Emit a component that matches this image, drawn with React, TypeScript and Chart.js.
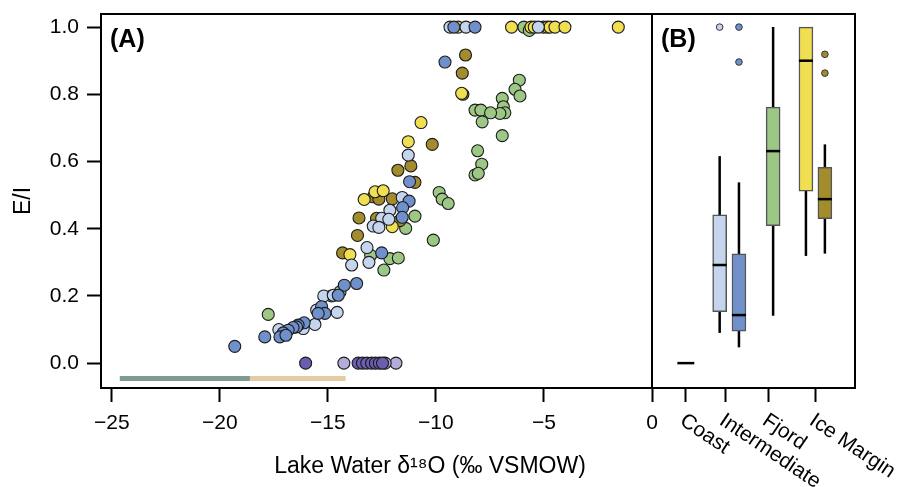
import React, { useEffect, useRef } from 'react';
import { Chart, registerables } from 'chart.js';

Chart.register(...registerables);

const FONT = '"Liberation Sans", Arial, Helvetica, sans-serif';

// ---------- Panel A data ----------
const xTicksA = [-25, -20, -15, -10, -5, 0];
const yTicks = [0, 0.2, 0.4, 0.6, 0.8, 1.0];
const xTitle = 'Lake Water \u03b4\u00b9\u2078O (\u2030 VSMOW)';
const yTitle = 'E/I';

const intermediateLight: [number, number][] = [
  [-11.28, 0.619], [-11.56, 0.493], [-12.13, 0.455], [-12.51, 0.431], [-12.18, 0.428],
  [-12.9, 0.408], [-12.64, 0.404], [-13.19, 0.344], [-13.1, 0.3], [-13.9, 0.292],
  [-14.83, 0.2], [-15.19, 0.2], [-14.75, 0.202], [-15.52, 0.158], [-14.57, 0.151],
  [-15.6, 0.115], [-17.27, 0.1], [-16.14, 0.103], [-9.35, 1.0], [-8.61, 1.0], [-5.26, 1.0],
];
const intermediateDark: [number, number][] = [
  [-11.22, 0.54], [-11.24, 0.482], [-11.54, 0.463], [-11.56, 0.434], [-12.51, 0.328],
  [-13.67, 0.237], [-14.24, 0.232], [-14.52, 0.202], [-15.29, 0.168], [-15.14, 0.148],
  [-15.45, 0.148], [-16.1, 0.12], [-16.38, 0.113], [-16.45, 0.108], [-16.61, 0.106],
  [-16.84, 0.098], [-17.07, 0.09], [-17.22, 0.078], [-16.94, 0.083], [-17.92, 0.078],
  [-19.31, 0.05], [-9.17, 1.0], [-8.19, 1.0], [-9.58, 0.896],
];
const fjord: [number, number][] = [
  [-9.85, 0.508], [-9.71, 0.488], [-9.43, 0.475], [-10.97, 0.4375], [-11.4, 0.401],
  [-10.12, 0.366], [-13.02, 0.321], [-12.13, 0.311], [-11.74, 0.313], [-12.41, 0.277],
  [-14.44, 0.212], [-17.76, 0.145], [-8.07, 0.632], [-7.88, 0.592], [-8.19, 0.56],
  [-8.04, 0.565], [-6.14, 0.842], [-6.34, 0.815], [-6.11, 0.795], [-6.93, 0.788],
  [-6.88, 0.763], [-6.81, 0.745], [-7.04, 0.743], [-8.19, 0.753], [-7.92, 0.753],
  [-7.47, 0.745], [-7.86, 0.718], [-6.93, 0.677], [-5.93, 1.0], [-5.68, 0.99],
];
const iceMarginLight: [number, number][] = [
  [-13.32, 0.487], [-12.82, 0.51], [-12.44, 0.513], [-12.02, 0.406], [-13.98, 0.323],
  [-8.81, 0.803], [-10.69, 0.716], [-11.28, 0.659], [-8.97, 1.0], [-6.5, 1.0],
  [-5.6, 1.0], [-5.45, 1.0], [-5.03, 1.0], [-4.85, 1.0], [-4.72, 1.0], [-4.49, 1.0],
  [-4.03, 1.0], [-1.56, 1.0],
];
const iceMarginDark: [number, number][] = [
  [-11.16, 0.587], [-11.76, 0.574], [-10.97, 0.538], [-12.9, 0.495], [-12.64, 0.488],
  [-12.02, 0.489], [-11.67, 0.424], [-12.75, 0.431], [-13.56, 0.432], [-13.63, 0.38],
  [-14.32, 0.328], [-8.63, 0.917], [-8.78, 0.863], [-8.75, 0.8], [-10.17, 0.651],
];
const coastDark: [number, number][] = [
  [-16.03, 0], [-13.6, 0], [-13.4, 0], [-13.2, 0], [-12.98, 0], [-12.8, 0],
  [-12.62, 0], [-12.47, 0],
];
const coastLight: [number, number][] = [
  [-14.26, 0], [-11.85, 0], [-12.35, 0],
];

const rangeA: [number, number] = [-24.63, -18.61];
const rangeB: [number, number] = [-18.61, -14.18];
const rangeY = -0.046;

// ---------- Panel B data ----------
const categories = ['Coast', 'Intermediate', 'Fjord', 'Ice Margin'];
const categoryPos = [1.0, 2.17, 3.44, 4.83];
const boxPos = [1.0, 2.0, 2.57, 3.58, 4.55, 5.11];
const boxQ1 = [0, 0.153, 0.095, 0.409, 0.512, 0.43];
const boxMedian = [0, 0.292, 0.143, 0.631, 0.9, 0.488];
const boxQ3 = [0, 0.441, 0.325, 0.762, 1.0, 0.583];
const boxLow = [0, 0.09, 0.047, 0.141, 0.319, 0.326];
const boxHigh = [0, 0.616, 0.538, 1.0, 1.0, 0.651];
const boxOutliers: number[][] = [[], [1.0], [1.0, 0.896], [], [], [0.919, 0.863]];

const COL = {
  lightBlue: '#c6d5ee',
  blue: '#7090cc',
  green: '#9cc784',
  yellow: '#f0df50',
  olive: '#a38c2c',
  purple: '#6b5db0',
  lavender: '#b4acd9',
};
const boxFill = ['#ffffff', COL.lightBlue, COL.blue, COL.green, COL.yellow, COL.olive];

const Y_MIN = -0.074;
const Y_MAX = 1.039;

const framePlugin = (label: string) => ({
  id: 'frame' + label.replace(/\W/g, ''),
  afterDraw(chart: any) {
    const { ctx, chartArea: a } = chart;
    ctx.save();
    ctx.strokeStyle = '#000';
    ctx.lineWidth = 2;
    ctx.strokeRect(a.left, a.top, a.right - a.left, a.bottom - a.top);
    ctx.font = `bold 25px ${FONT}`;
    ctx.fillStyle = '#000';
    ctx.textBaseline = 'top';
    ctx.textAlign = 'left';
    ctx.fillText(label, a.left + 9, a.top + 14);
    ctx.restore();
  },
});

const xTitlePlugin = {
  id: 'xTitle',
  afterDraw(chart: any) {
    const { ctx } = chart;
    ctx.save();
    ctx.font = `23px ${FONT}`;
    ctx.fillStyle = '#000';
    ctx.textAlign = 'center';
    ctx.textBaseline = 'middle';
    ctx.fillText(xTitle, 430, 467);
    ctx.restore();
  },
};

const categoryLabelPlugin = {
  id: 'catLabels',
  afterDraw(chart: any) {
    const { ctx } = chart;
    const xs = chart.scales.x;
    ctx.save();
    ctx.font = `21px ${FONT}`;
    ctx.fillStyle = '#000';
    ctx.textAlign = 'left';
    ctx.textBaseline = 'top';
    categories.forEach((c, i) => {
      const px = xs.getPixelForValue(categoryPos[i]);
      ctx.save();
      ctx.translate(px + 2, xs.top + 22);
      ctx.rotate((34 * Math.PI) / 180);
      ctx.fillText(c, 0, 0);
      ctx.restore();
    });
    ctx.restore();
  },
};

const pts = (arr: [number, number][]) => arr.map(([x, y]) => ({ x, y }));

const scatterDs = (label: string, arr: [number, number][], color: string, order: number) => ({
  type: 'scatter' as const,
  label,
  data: pts(arr),
  backgroundColor: color,
  borderColor: '#1c1c1c',
  borderWidth: 1.1,
  pointRadius: 6,
  order,
});

const tickFont = { family: FONT, size: 21 };
const titleFont = { family: FONT, size: 23 };

export default function App() {
  const refA = useRef<HTMLCanvasElement>(null);
  const refB = useRef<HTMLCanvasElement>(null);

  useEffect(() => {
    const chartA = new Chart(refA.current!, {
      type: 'scatter',
      data: {
        datasets: [
          {
            type: 'line',
            label: 'range1',
            data: [{ x: rangeA[0], y: rangeY }, { x: rangeA[1], y: rangeY }],
            borderColor: '#7f9a8f',
            borderWidth: 5,
            pointRadius: 0,
            borderCapStyle: 'butt',
            order: 20,
          } as any,
          {
            type: 'line',
            label: 'range2',
            data: [{ x: rangeB[0], y: rangeY }, { x: rangeB[1], y: rangeY }],
            borderColor: '#e5cba4',
            borderWidth: 5,
            pointRadius: 0,
            borderCapStyle: 'butt',
            order: 20,
          } as any,
          scatterDs('Fjord', fjord, COL.green, 10),
          scatterDs('Ice Margin (dark)', iceMarginDark, COL.olive, 9),
          scatterDs('Ice Margin (light)', iceMarginLight, COL.yellow, 8),
          scatterDs('Intermediate (light)', intermediateLight, COL.lightBlue, 7),
          scatterDs('Intermediate (dark)', intermediateDark, COL.blue, 6),
          scatterDs('Coast (light)', coastLight, COL.lavender, 5),
          scatterDs('Coast (dark)', coastDark, COL.purple, 4),
        ],
      },
      options: {
        animation: false,
        responsive: false,
        events: [],
        layout: { padding: { left: 0, top: 14, right: 255, bottom: 0 } },
        plugins: { legend: { display: false }, tooltip: { enabled: false } },
        scales: {
          x: {
            type: 'linear',
            min: -25.5,
            max: 0,
            afterBuildTicks: (s: any) => { s.ticks = xTicksA.map((v) => ({ value: v })); },
            afterFit: (s: any) => { s.height = 99; s.paddingLeft = 0; s.paddingRight = 0; },
            border: { display: false },
            grid: { drawOnChartArea: false, drawTicks: true, tickLength: 14, tickColor: '#000', tickWidth: 2 },
            ticks: {
              font: tickFont,
              color: '#000',
              padding: 9,
              maxRotation: 0,
              callback: (v: any) => (v < 0 ? '\u2212' + Math.abs(v) : String(v)),
            },
            title: { display: false },
          },
          y: {
            type: 'linear',
            min: Y_MIN,
            max: Y_MAX,
            afterBuildTicks: (s: any) => { s.ticks = yTicks.map((v) => ({ value: v })); },
            afterFit: (s: any) => { s.width = 101; s.paddingTop = 0; s.paddingBottom = 0; },
            border: { display: false },
            grid: { drawOnChartArea: false, drawTicks: true, tickLength: 14, tickColor: '#000', tickWidth: 2 },
            ticks: {
              font: tickFont,
              color: '#000',
              padding: 8,
              callback: (v: any) => Number(v).toFixed(1),
            },
            title: {
              display: true,
              text: yTitle,
              font: titleFont,
              color: '#000',
              padding: { top: 10, bottom: 0 },
            },
          },
        },
      },
      plugins: [framePlugin('(A)'), xTitlePlugin],
    } as any);

    const halfW = 0.207;
    const dsB: any[] = [];
    boxPos.forEach((p, i) => {
      dsB.push({
        type: 'line',
        label: 'whisker' + i,
        data: [{ x: p, y: boxLow[i] }, { x: p, y: boxHigh[i] }],
        borderColor: '#000',
        borderWidth: 2.5,
        pointRadius: 0,
        order: 3,
      });
      if (boxQ3[i] > boxQ1[i]) {
        dsB.push({
          type: 'bar',
          label: 'box' + i,
          data: [{ x: p, y: [boxQ1[i], boxQ3[i]] }],
          backgroundColor: boxFill[i],
          borderColor: '#555',
          borderWidth: 1.5,
          borderSkipped: false,
          barThickness: 14,
          grouped: false,
          order: 2,
        });
      }
      const hw = i === 0 ? 0.25 : halfW;
      dsB.push({
        type: 'line',
        label: 'median' + i,
        data: [{ x: p - hw, y: boxMedian[i] }, { x: p + hw, y: boxMedian[i] }],
        borderColor: '#000',
        borderWidth: 2.5,
        pointRadius: 0,
        order: 1,
      });
      if (boxOutliers[i].length) {
        dsB.push({
          type: 'scatter',
          label: 'outliers' + i,
          data: boxOutliers[i].map((y) => ({ x: p, y })),
          backgroundColor: boxFill[i],
          borderColor: '#333',
          borderWidth: 1,
          pointRadius: 3.3,
          order: 0,
        });
      }
    });

    const chartB = new Chart(refB.current!, {
      type: 'bar',
      data: { datasets: dsB },
      options: {
        animation: false,
        responsive: false,
        events: [],
        layout: { padding: { left: 652, top: 14, right: 52, bottom: 0 } },
        plugins: { legend: { display: false }, tooltip: { enabled: false } },
        scales: {
          x: {
            type: 'linear',
            min: 0,
            max: 6,
            offset: false,
            afterBuildTicks: (s: any) => { s.ticks = categoryPos.map((v) => ({ value: v })); },
            afterFit: (s: any) => { s.height = 99; s.paddingLeft = 0; s.paddingRight = 0; },
            border: { display: false },
            grid: { offset: false, drawOnChartArea: false, drawTicks: true, tickLength: 14, tickColor: '#000', tickWidth: 2 },
            ticks: { display: false },
          },
          y: {
            type: 'linear',
            min: Y_MIN,
            max: Y_MAX,
            display: false,
          },
        },
      },
      plugins: [framePlugin('(B)'), categoryLabelPlugin],
    } as any);

    return () => {
      chartA.destroy();
      chartB.destroy();
    };
  }, []);

  return (
    <div style={{ position: 'fixed', left: 0, top: 0, width: 907, height: 487, background: '#fff' }}>
      <canvas ref={refA} width={907} height={487} style={{ position: 'absolute', left: 0, top: 0 }} />
      <canvas ref={refB} width={907} height={487} style={{ position: 'absolute', left: 0, top: 0 }} />
    </div>
  );
}
